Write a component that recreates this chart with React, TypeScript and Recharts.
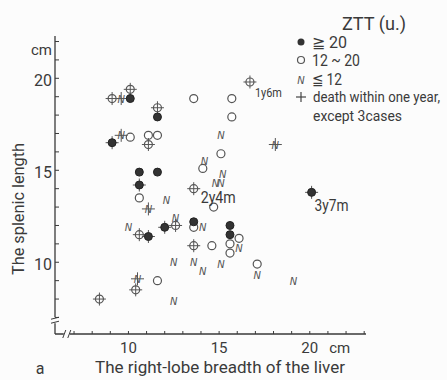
import React from "react";
import { ScatterChart, Scatter, XAxis, YAxis } from "recharts";

type Pt = { x: number; y: number };

// ZTT >= 20 (filled circles)
const highAlive: Pt[] = [
  { x: 10.1, y: 18.9 }, { x: 11.6, y: 17.9 }, { x: 10.6, y: 14.9 },
  { x: 11.6, y: 14.9 }, { x: 13.6, y: 12.2 }, { x: 15.6, y: 12.0 },
  { x: 15.6, y: 11.5 },
];
const highDeath: Pt[] = [
  { x: 9.1, y: 16.5 }, { x: 10.6, y: 14.2 }, { x: 11.1, y: 11.4 },
  { x: 12.0, y: 11.9 }, { x: 20.1, y: 13.8 },
];

// ZTT 12 ~ 20 (open circles)
const midAlive: Pt[] = [
  { x: 13.6, y: 18.9 }, { x: 15.7, y: 18.9 }, { x: 15.7, y: 17.9 },
  { x: 10.1, y: 16.8 }, { x: 11.1, y: 16.9 }, { x: 11.6, y: 16.9 },
  { x: 15.1, y: 15.9 }, { x: 14.1, y: 15.1 }, { x: 10.6, y: 13.5 },
  { x: 14.7, y: 13.0 }, { x: 13.6, y: 11.9 }, { x: 14.6, y: 10.9 },
  { x: 16.1, y: 11.3 }, { x: 15.6, y: 11.0 }, { x: 15.6, y: 10.5 },
  { x: 17.1, y: 9.9 }, { x: 11.6, y: 9.0 },
];
const midDeath: Pt[] = [
  { x: 9.1, y: 18.9 }, { x: 10.1, y: 19.4 }, { x: 11.6, y: 18.4 },
  { x: 16.7, y: 19.8 }, { x: 11.1, y: 16.4 }, { x: 13.6, y: 14.0 },
  { x: 10.6, y: 11.5 }, { x: 12.6, y: 12.0 }, { x: 13.6, y: 10.9 },
  { x: 10.4, y: 8.5 }, { x: 8.4, y: 8.0 },
];

// ZTT <= 12 (N)
const lowAlive: Pt[] = [
  { x: 15.1, y: 16.9 }, { x: 14.2, y: 15.5 }, { x: 15.2, y: 14.8 },
  { x: 14.8, y: 14.3 }, { x: 15.1, y: 14.3 }, { x: 12.1, y: 13.4 },
  { x: 10.0, y: 11.9 }, { x: 12.6, y: 12.4 }, { x: 14.1, y: 11.9 },
  { x: 16.1, y: 10.8 }, { x: 12.5, y: 10.0 }, { x: 13.6, y: 10.0 },
  { x: 14.1, y: 9.5 }, { x: 15.1, y: 9.9 }, { x: 17.1, y: 9.3 },
  { x: 19.1, y: 9.0 }, { x: 12.5, y: 7.9 },
];
const lowDeath: Pt[] = [
  { x: 9.6, y: 18.9 }, { x: 9.6, y: 16.9 }, { x: 11.1, y: 12.9 },
  { x: 10.5, y: 9.1 }, { x: 18.1, y: 16.4 },
];

const notes = [
  { x: 16.7, y: 19.8, text: "1y6m" },
  { x: 13.6, y: 14.0, text: "2y4m" },
  { x: 20.1, y: 13.8, text: "3y7m" },
];

const xTicks = [7, 8, 9, 10, 11, 12, 13, 14, 15, 16, 17, 18, 19, 20, 21, 22, 23];
const yTicks = [7, 8, 9, 10, 11, 12, 13, 14, 15, 16, 17, 18, 19, 20, 21, 22];
const xLabels = [10, 15, 20];
const yLabels = [10, 15, 20];
const xBreak = 6.6;
const yBreak = 6.85;

const INK = "#3a3a3a";
const FONT = "Roboto, 'Liberation Sans', sans-serif";
const NOTE_STYLE = [
  { dx: 5, dy: 15, size: 13, len: 27 },
  { dx: 7, dy: 14, size: 16, len: 35 },
  { dx: 3, dy: 19, size: 16, len: 34 },
];

function Mark(props: any) {
  const { cx, cy, payload, kind, death } = props;
  if (cx == null || cy == null) return null;
  const ni = notes.findIndex((n) => n.x === payload.x && n.y === payload.y);
  return (
    <g>
      {death && (
        <g stroke="#555" strokeWidth={1}>
          <line x1={cx - 6.5} y1={cy} x2={cx + 6.5} y2={cy} />
          <line x1={cx} y1={cy - 6.5} x2={cx} y2={cy + 6.5} />
        </g>
      )}
      {kind === "high" && <circle cx={cx} cy={cy} r={4} fill="#333" stroke="#222" />}
      {kind === "mid" && (
        <circle cx={cx} cy={cy} r={4} fill={death ? "none" : "#fff"} stroke="#555" strokeWidth={1.2} />
      )}
      {kind === "low" && (
        <text x={cx} y={cy + 4} textAnchor="middle" fontSize={10} fontStyle="italic"
          fontFamily="'DejaVu Sans', sans-serif" fill="#555">N</text>
      )}
      {ni >= 0 && (
        <text x={cx + NOTE_STYLE[ni].dx} y={cy + NOTE_STYLE[ni].dy} fontSize={NOTE_STYLE[ni].size}
          textLength={NOTE_STYLE[ni].len} lengthAdjust="spacingAndGlyphs"
          fontFamily={FONT} fill={INK}>{notes[ni].text}</text>
      )}
    </g>
  );
}

function XTick(props: any) {
  const { x, y, payload } = props;
  const v = payload.value;
  if (v === xBreak) {
    return (
      <g>
        <rect x={x - 3} y={y - 2} width={6} height={4} fill="#fcfcfc" />
        <line x1={x - 4} y1={y + 4} x2={x - 1} y2={y - 4} stroke={INK} />
        <line x1={x + 1} y1={y + 4} x2={x + 4} y2={y - 4} stroke={INK} />
      </g>
    );
  }
  return (
    <g>
      <line x1={x} y1={y} x2={x} y2={y - 3} stroke={INK} />
      {xLabels.includes(v) && (
        <text x={x} y={y + 19} textAnchor="middle" fontSize={15} fontFamily={FONT} fill={INK}>{v}</text>
      )}
      {v === 20 && (
        <text x={x + 30} y={y + 19} textAnchor="middle" fontSize={15} fontFamily={FONT} fill={INK}>cm</text>
      )}
    </g>
  );
}

function YTick(props: any) {
  const { x, y, payload } = props;
  const v = payload.value;
  if (v === yBreak) {
    return (
      <g>
        <rect x={x - 2} y={y - 3} width={4} height={6} fill="#fcfcfc" />
        <line x1={x - 4} y1={y - 1} x2={x + 4} y2={y - 3} stroke={INK} />
        <line x1={x - 4} y1={y + 3} x2={x + 4} y2={y + 1} stroke={INK} />
      </g>
    );
  }
  return (
    <g>
      <line x1={x} y1={y} x2={x + 4} y2={y} stroke={INK} />
      {yLabels.includes(v) && (
        <text x={x - 3} y={y + 8} textAnchor="end" fontSize={16} fontFamily={FONT} fill={INK}>{v}</text>
      )}
      {v === 22 && (
        <text x={x - 3} y={y + 13} textAnchor="end" fontSize={15} fontFamily={FONT} fill={INK}>cm</text>
      )}
    </g>
  );
}

export default function App() {
  return (
    <div style={{ position: "absolute", left: 0, top: 0, width: 447, height: 380, background: "#fcfcfc" }}>
      <ScatterChart width={447} height={380} margin={{ top: 36, right: 81, bottom: 0, left: 0 }}>
        <XAxis
          type="number"
          dataKey="x"
          domain={[5.95, 23.1]}
          ticks={[xBreak, ...xTicks]}
          interval={0}
          height={46}
          tickSize={0}
          tickMargin={0}
          tickLine={false}
          axisLine={{ stroke: INK, strokeWidth: 1.3 }}
          tick={<XTick />}
          label={{
            content: (p: any) => {
              const vb = p.viewBox;
              return (
                <g fontFamily={FONT} fill={INK}>
                  <text x={95} y={vb.y + 39} fontSize={16} textLength={250} lengthAdjust="spacingAndGlyphs">
                    The right-lobe breadth of the liver
                  </text>
                  <text x={40} y={vb.y + 40} textAnchor="middle" fontSize={16}>a</text>
                </g>
              );
            },
          }}
        />
        <YAxis
          type="number"
          dataKey="y"
          domain={[6.1, 22.3]}
          ticks={[yBreak, ...yTicks]}
          interval={0}
          width={55}
          tickSize={0}
          tickMargin={0}
          tickLine={false}
          axisLine={{ stroke: INK, strokeWidth: 1.3 }}
          tick={<YTick />}
          label={{
            content: () => (
              <text x={18} y={275} transform="rotate(-90 18 275)" dominantBaseline="central"
                fontSize={16} textLength={132} lengthAdjust="spacingAndGlyphs"
                fontFamily={FONT} fill={INK}>
                The splenic length
              </text>
            ),
          }}
        />
        <Scatter data={midAlive} isAnimationActive={false} shape={(p: any) => <Mark {...p} kind="mid" />} />
        <Scatter data={midDeath} isAnimationActive={false} shape={(p: any) => <Mark {...p} kind="mid" death />} />
        <Scatter data={lowAlive} isAnimationActive={false} shape={(p: any) => <Mark {...p} kind="low" />} />
        <Scatter data={lowDeath} isAnimationActive={false} shape={(p: any) => <Mark {...p} kind="low" death />} />
        <Scatter data={highAlive} isAnimationActive={false} shape={(p: any) => <Mark {...p} kind="high" />} />
        <Scatter data={highDeath} isAnimationActive={false} shape={(p: any) => <Mark {...p} kind="high" death />} />
      </ScatterChart>
      <svg width={447} height={380} style={{ position: "absolute", left: 0, top: 0, pointerEvents: "none" }}>
        <g fontFamily={FONT} fill={INK}>
          <text x={342} y={30} fontSize={18} textLength={64} lengthAdjust="spacingAndGlyphs">ZTT (u.)</text>
          <circle cx={301} cy={42} r={3.5} fill="#333" />
          <text x={312} y={48} fontSize={16} textLength={35} lengthAdjust="spacingAndGlyphs">≧ 20</text>
          <circle cx={301} cy={60} r={3.5} fill="none" stroke="#555" strokeWidth={1.2} />
          <text x={312} y={66} fontSize={16} textLength={48} lengthAdjust="spacingAndGlyphs">12 ~ 20</text>
          <text x={301} y={84} textAnchor="middle" fontSize={10} fontStyle="italic"
            fontFamily="'DejaVu Sans', sans-serif" fill="#555">N</text>
          <text x={312} y={85} fontSize={16} textLength={30} lengthAdjust="spacingAndGlyphs">≦ 12</text>
          <g stroke="#444" strokeWidth={1.2}>
            <line x1={296} y1={97} x2={306} y2={97} />
            <line x1={301} y1={92} x2={301} y2={102} />
          </g>
          <text x={313} y={102} fontSize={15} textLength={127} lengthAdjust="spacingAndGlyphs">death within one year,</text>
          <text x={313} y={121} fontSize={15} textLength={89} lengthAdjust="spacingAndGlyphs">except 3cases</text>
        </g>
      </svg>
    </div>
  );
}
